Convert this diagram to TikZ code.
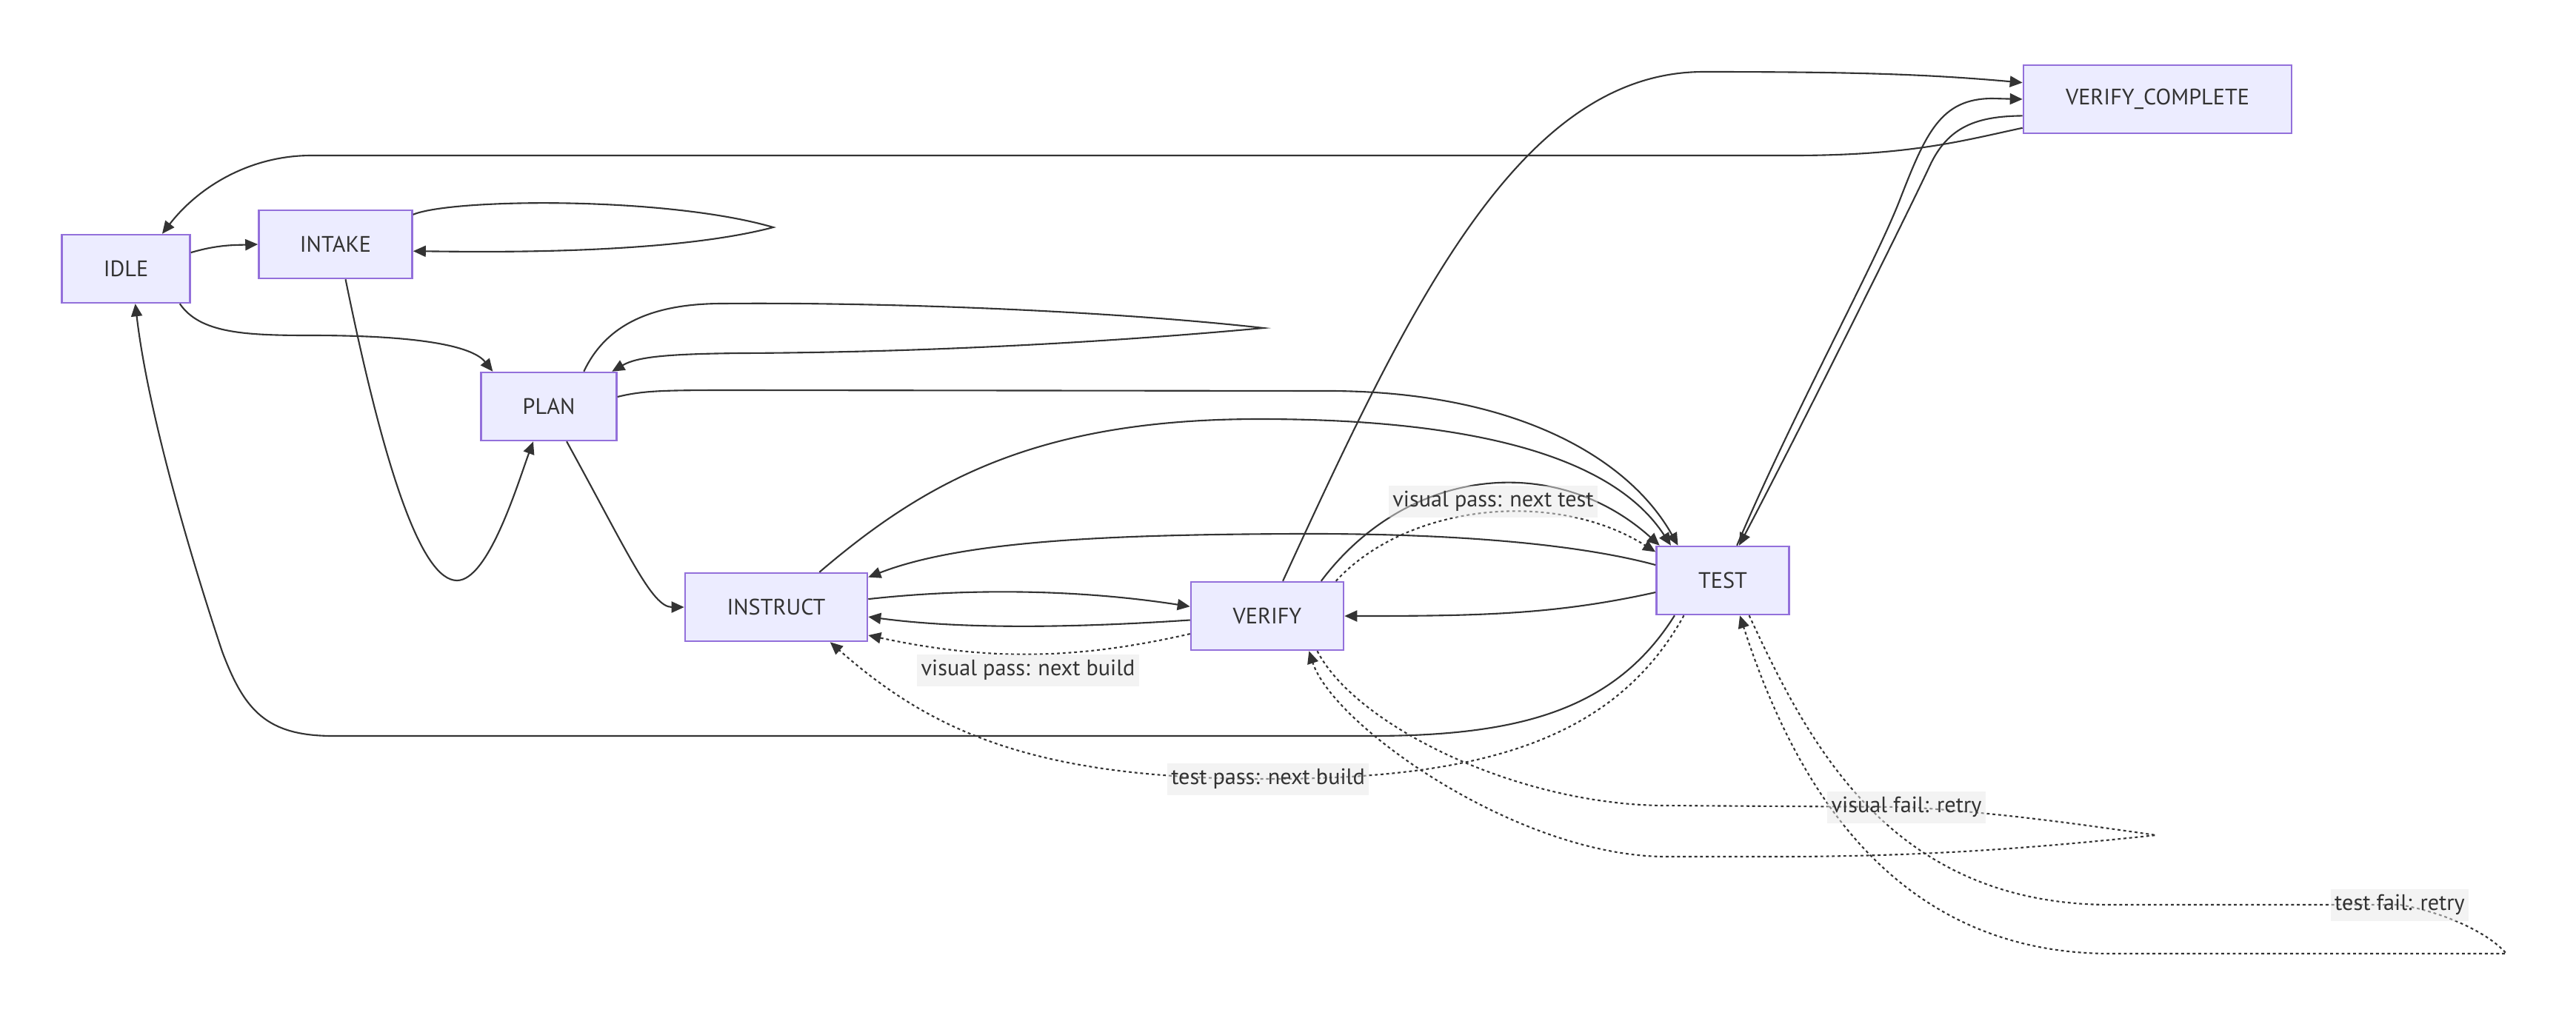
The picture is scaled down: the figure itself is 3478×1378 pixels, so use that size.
\documentclass[tikz,border=0pt]{standalone}
\usepackage{fontspec}
\setmainfont{PT Sans}
\usetikzlibrary{arrows.meta}

\definecolor{stfill}{HTML}{ECECFF}
\definecolor{stline}{HTML}{9370DB}
\definecolor{lnk}{HTML}{333333}
\definecolor{lblbg}{HTML}{E8E8E8}

\begin{document}
\begin{tikzpicture}[
  x=0.01cm, y=-0.01cm,
  font=\fontsize{8.6}{10.2}\selectfont,
  state/.style={draw=stline, fill=stfill, line width=0.7pt, minimum height=0.92cm, text=lnk},
  trans/.style={draw=lnk, line width=0.6pt, -{Triangle[length=1.7mm, width=1.5mm]}},
  retry/.style={trans, dash pattern=on 1.1pt off 1.1pt},
  lbl/.style={fill=lblbg, fill opacity=0.5, text opacity=1, text=lnk, inner xsep=1.5pt, inner ysep=0pt, minimum height=0.43cm}
]
\useasboundingbox (0,0) rectangle (3478,1378);

\node[state, minimum width=1.73cm] (idle)     at (170,363)  {IDLE};
\node[state, minimum width=2.07cm] (intake)   at (453,330)  {INTAKE};
\node[state, minimum width=1.83cm] (plan)     at (741,549)  {PLAN};
\node[state, minimum width=2.46cm] (instruct) at (1048,820) {INSTRUCT};
\node[state, minimum width=2.06cm] (verify)   at (1711,832) {VERIFY};
\node[state, minimum width=1.79cm] (test)     at (2326,784) {TEST};
\node[state, minimum width=3.62cm] (vc)       at (2913,134) {VERIFY\_COMPLETE};

\coordinate (intakeTip) at (1044,307);
\coordinate (planTip)   at (1706,443);
\coordinate (verifyTip) at (2911,1128);
\coordinate (testTip)   at (3384,1288);

% intake and planning
\draw[trans] (idle.14) .. controls (295,330) and (320,331) .. (intake.west);
\draw[trans] (intake.21) .. controls (610,268) and (900,265) .. (intakeTip)
  .. controls (900,345) and (640,340) .. (intake.-5);
\draw[trans] (idle.-33) .. controls (270,450) and (330,453) .. (420,453)
  .. controls (580,453) and (640,470) .. (plan.148);
\draw[trans] (intake.-74) .. controls (520,640) and (570,784) .. (617,784)
  .. controls (660,784) and (700,650) .. (plan.-114);
\draw[trans] (plan.45) .. controls (815,445) and (870,410) .. (975,410)
  .. controls (1200,408) and (1500,420) .. (planTip)
  .. controls (1500,462) and (1250,476) .. (1000,477)
  .. controls (900,478) and (860,482) .. (plan.29);
\draw[trans] (plan.8) .. controls (870,527) and (900,527) .. (1000,527) -- (1800,528)
  .. controls (2050,530) and (2200,620) .. (test.142);
\draw[trans] (plan.-63) .. controls (848,747) and (880,820) .. (instruct.west);

% build / verify / test cycle
\draw[trans] (instruct.39) .. controls (1250,650) and (1400,566) .. (1700,566)
  .. controls (2000,566) and (2180,620) .. (test.146);
\draw[trans] (test.167) .. controls (2150,740) and (2000,720) .. (1750,721)
  .. controls (1500,722) and (1300,730) .. (instruct.18);
\draw[trans] (instruct.5) .. controls (1300,795) and (1450,795) .. (verify.173);
\draw[trans] (verify.183) .. controls (1450,848) and (1300,850) .. (instruct.-6);
\draw[retry] (verify.193) .. controls (1450,892) and (1330,892) .. (instruct.-17);
\draw[trans] (verify.33) .. controls (1900,630) and (2100,610) .. (test.151);
\draw[retry] (verify.27) .. controls (1900,680) and (2100,660) .. (test.157);
\draw[trans] (test.190) .. controls (2100,830) and (2000,832) .. (verify.east);
\draw[retry] (test.222) .. controls (2180,1000) and (2000,1052) .. (1712,1052)
  .. controls (1400,1052) and (1260,990) .. (instruct.-33);

% retries
\draw[retry] (verify.-35) .. controls (1830,980) and (2050,1088) .. (2250,1088) -- (2574,1090)
  .. controls (2700,1098) and (2800,1112) .. (verifyTip)
  .. controls (2750,1145) and (2600,1157) .. (2400,1157) -- (2250,1157)
  .. controls (2050,1157) and (1800,980) .. (verify.-40);
\draw[retry] (test.-53) .. controls (2440,1000) and (2550,1222) .. (2850,1222) -- (3240,1222)
  .. controls (3300,1232) and (3360,1260) .. (testTip) -- (2850,1288)
  .. controls (2550,1288) and (2420,1050) .. (test.-64);

% completion and back to idle
\draw[trans] (verify.66) .. controls (1900,420) and (2050,97) .. (2300,97)
  .. controls (2500,97) and (2600,100) .. (vc.173);
\draw[trans] (test.68) .. controls (2420,560) and (2530,360) .. (2565,270)
  .. controls (2600,180) and (2620,133) .. (2690,133) -- (vc.180);
\draw[trans] (vc.187) .. controls (2670,157) and (2630,170) .. (2605,225)
  .. controls (2570,300) and (2420,600) .. (test.65);
\draw[trans] (vc.192) .. controls (2650,190) and (2580,210) .. (2420,210) -- (420,210)
  .. controls (340,210) and (270,250) .. (idle.44);
\draw[trans] (test.216) .. controls (2180,960) and (2050,994) .. (1850,994) -- (450,994)
  .. controls (360,994) and (330,960) .. (300,880)
  .. controls (260,760) and (200,560) .. (idle.-75);

\node[lbl] (vpnext)  at (2016,677)  {visual pass: next test};
\node[lbl] (vpbuild) at (1388,905)  {visual pass: next build};
\node[lbl] (tpbuild) at (1712,1052) {test pass: next build};
\node[lbl] (vfretry) at (2574,1090) {visual fail: retry};
\node[lbl] (tfretry) at (3240,1222) {test fail: retry};

\end{tikzpicture}
\end{document}
